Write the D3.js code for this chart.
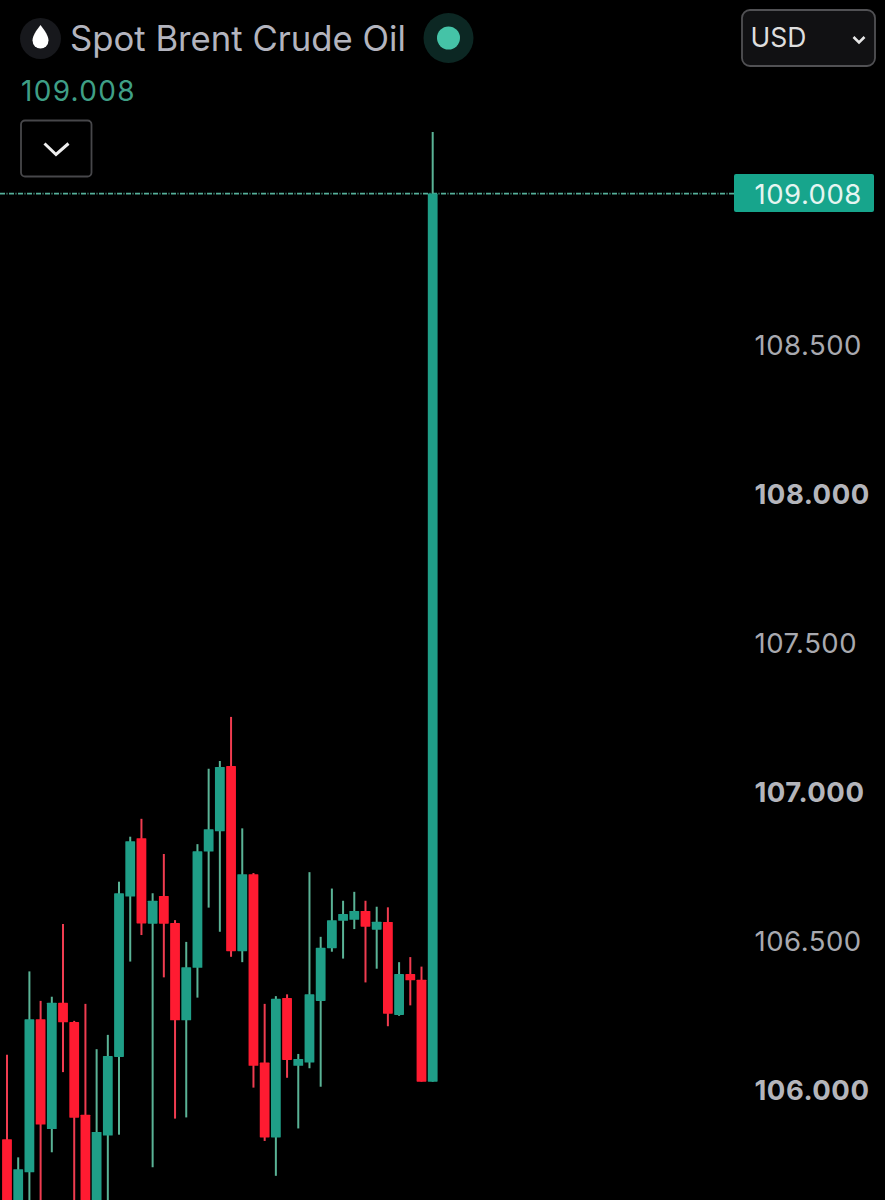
<!DOCTYPE html>
<html>
<head>
<meta charset="utf-8">
<script src="https://cdn.jsdelivr.net/npm/d3@7"></script>
<style>
    html, body { margin: 0; padding: 0; background: #000; }
    svg { display: block; font-family: Inter, "Noto Sans", sans-serif; }
    .axis .domain, .axis line { display: none; }
</style>
</head>
<body>
<svg id="chart" width="885" height="1200"></svg>
<script>
const title = "Spot Brent Crude Oil";
const currency = "USD";
const lastPrice = 109.008;
const priceTicks = [106, 106.5, 107, 107.5, 108, 108.5];

const open = [105.835, 105.547, 105.724, 106.237, 105.869, 106.293, 106.228, 105.917, 105.497, 105.847,
    106.111, 106.649, 106.845, 106.558, 106.651, 106.560, 106.234, 106.410, 106.800, 106.868,
    107.087, 106.466, 106.724, 106.092, 105.841, 106.309, 106.081, 106.092, 106.299, 106.476,
    106.568, 106.571, 106.601, 106.538, 106.564, 106.252, 106.389, 106.370, 106.028];
const close = [105.581, 105.734, 106.237, 105.884, 106.293, 106.227, 105.907, 105.530, 105.859, 106.114,
    106.660, 106.835, 106.559, 106.635, 106.558, 106.234, 106.412, 106.801, 106.875, 107.084,
    106.466, 106.724, 106.081, 105.841, 106.306, 106.101, 106.104, 106.321, 106.477, 106.570,
    106.591, 106.601, 106.548, 106.565, 106.256, 106.389, 106.368, 106.028, 109.008];
const high = [106.118, 105.774, 106.398, 106.299, 106.313, 106.557, 106.232, 106.289, 106.137, 106.185,
    106.699, 106.850, 106.910, 106.660, 106.792, 106.570, 106.497, 106.825, 107.078, 107.104,
    107.252, 106.878, 106.728, 106.289, 106.315, 106.321, 106.121, 106.731, 106.514, 106.676,
    106.635, 106.665, 106.635, 106.615, 106.613, 106.429, 106.446, 106.414, 109.215];
const low = [105.530, 105.497, 105.581, 105.547, 105.791, 106.060, 105.581, 105.480, 105.463, 105.581,
    105.850, 106.431, 106.520, 105.741, 106.378, 105.904, 105.908, 106.310, 106.612, 106.531,
    106.447, 106.429, 106.008, 105.829, 105.712, 106.041, 105.871, 106.073, 106.011, 106.464,
    106.441, 106.540, 106.361, 106.407, 106.214, 106.249, 106.284, 106.028, 106.028];

const green = "#1f9e87";
const greenWick = "#5ab396";
const red = "#ff1b31";
const redWick = "#f03c50";

const svg = d3.select("#chart");

const x = d3.scaleLinear().domain([0, open.length - 1]).range([7, 432.7]);
const y = d3.scaleLinear().domain([106, 108]).range([1090, 494]);

// last price line goes under the candles
svg.append("line")
    .attr("x1", 0)
    .attr("x2", 734)
    .attr("y1", y(lastPrice))
    .attr("y2", y(lastPrice))
    .attr("stroke", "#55b09a")
    .attr("stroke-width", 1.7)
    .attr("stroke-dasharray", "5 1.5 1 1.5");

const candle = svg.append("g")
    .selectAll("g")
    .data(d3.range(open.length))
    .enter().append("g")
    .attr("transform", i => `translate(${x(i)},0)`);

candle.append("line")
    .attr("y1", i => y(high[i]))
    .attr("y2", i => y(low[i]))
    .attr("stroke", i => close[i] >= open[i] ? greenWick : redWick)
    .attr("stroke-width", 2);

candle.append("rect")
    .attr("x", -4.9)
    .attr("width", 9.8)
    .attr("y", i => y(Math.max(open[i], close[i])))
    .attr("height", i => Math.abs(y(open[i]) - y(close[i])))
    .attr("rx", 0.6)
    .attr("fill", i => close[i] >= open[i] ? green : red);

// price axis
const axis = svg.append("g")
    .attr("class", "axis")
    .attr("transform", "translate(754.5,0)")
    .call(d3.axisRight(y).tickValues(priceTicks).tickFormat(d3.format(".3f")).tickSize(0).tickPadding(0));

axis.selectAll("text")
    .attr("y", 1)
    .attr("font-family", "Inter, 'Noto Sans', sans-serif")
    .attr("font-size", 27.5)
    .attr("font-weight", d => Number.isInteger(d) ? 700 : 400)
    .attr("letter-spacing", 0.5)
    .attr("fill", d => Number.isInteger(d) ? "#b4b5bb" : "#a8a9af");

// last price label
svg.append("rect")
    .attr("x", 734)
    .attr("y", 174)
    .attr("width", 140)
    .attr("height", 38)
    .attr("rx", 2)
    .attr("fill", "#17a58c");

svg.append("text")
    .attr("x", 754.5)
    .attr("y", 203.5)
    .attr("font-size", 27.5)
    .attr("letter-spacing", 0.5)
    .attr("fill", "#e6f5f1")
    .text(d3.format(".3f")(lastPrice));

// header
svg.append("circle").attr("cx", 40.5).attr("cy", 38.5).attr("r", 20.5).attr("fill", "#17181c");
svg.append("path")
    .attr("d", "M40.5 25 C36 31 32.5 36 32.5 40.5 A8 8 0 0 0 48.5 40.5 C48.5 36 45 31 40.5 25 Z")
    .attr("fill", "#fff");

svg.append("text")
    .attr("x", 70)
    .attr("y", 51)
    .attr("font-size", 34.7)
    .attr("fill", "#b3b4be")
    .text(title);

svg.append("circle").attr("cx", 448.5).attr("cy", 38).attr("r", 25).attr("fill", "#0c2723");
svg.append("circle").attr("cx", 448.5).attr("cy", 38).attr("r", 11.5).attr("fill", "#45c3a7");

svg.append("text")
    .attr("x", 21)
    .attr("y", 100.5)
    .attr("font-size", 28)
    .attr("letter-spacing", 1.3)
    .attr("fill", "#3f9f86")
    .text(d3.format(".3f")(lastPrice));

// collapse button
svg.append("rect")
    .attr("x", 21)
    .attr("y", 120.5)
    .attr("width", 70.5)
    .attr("height", 56)
    .attr("rx", 4)
    .attr("fill", "none")
    .attr("stroke", "#47474a")
    .attr("stroke-width", 1.8);

svg.append("path")
    .attr("d", "M44.5 143.5 L56 154.5 L68.5 143.5")
    .attr("fill", "none")
    .attr("stroke", "#eee")
    .attr("stroke-width", 3);

// currency select
svg.append("rect")
    .attr("x", 742)
    .attr("y", 10)
    .attr("width", 133)
    .attr("height", 56)
    .attr("rx", 8)
    .attr("fill", "#111113")
    .attr("stroke", "#515154")
    .attr("stroke-width", 1.8);

svg.append("text")
    .attr("x", 750.5)
    .attr("y", 47)
    .attr("font-size", 26.5)
    .attr("fill", "#dedede")
    .text(currency);

svg.append("path")
    .attr("d", "M853.5 37 L859 42.5 L864.5 37")
    .attr("fill", "none")
    .attr("stroke", "#e6e6e6")
    .attr("stroke-width", 2.6);
</script>
</body>
</html>
